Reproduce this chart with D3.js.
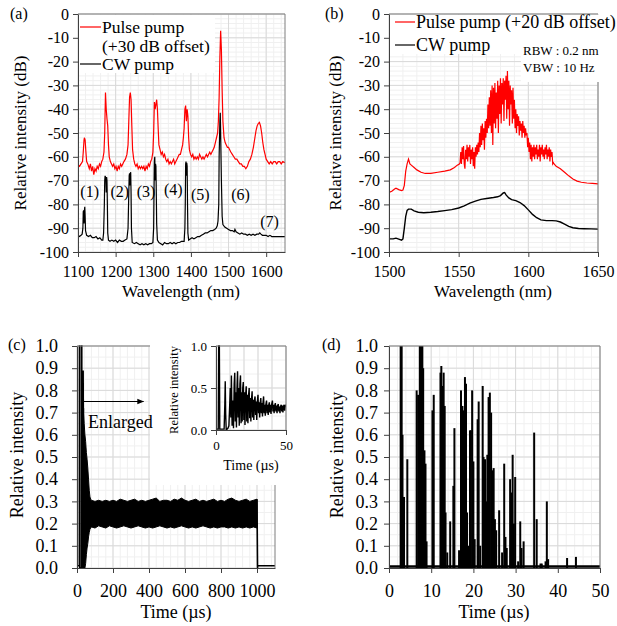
<!DOCTYPE html>
<html><head><meta charset="utf-8">
<script src="https://cdn.jsdelivr.net/npm/d3@7"></script>
<style>
body{margin:0;background:#fff}
svg text{font-family:"Liberation Serif","Times New Roman",serif !important;fill:#000}
</style>
</head><body>
<svg id="chart" width="617" height="626"></svg>
<script>
// ---------- Panel (a) data ----------
const aTicksX = [1100,1200,1300,1400,1500,1600];
const aTicksY = [0,-10,-20,-30,-40,-50,-60,-70,-80,-90,-100];
const aPulse = [[1100,-63.5],[1104,-64],[1108,-63],[1112,-62],[1114,-58],[1116,-53],[1117,-52],[1119,-53],[1121,-58],[1123,-62],[1126,-63],[1130,-65],[1133,-63],[1136,-66],[1139,-64],[1142,-67.5],[1145,-65],[1148,-66],[1151,-64],[1154,-65],[1157,-63],[1160,-64],[1163,-62],[1166,-61],[1169,-58],[1171,-50],[1173,-33],[1175,-40],[1177,-44],[1179,-47],[1181,-55],[1183,-60],[1186,-62],[1189,-63],[1192,-64],[1195,-63],[1198,-65],[1201,-64],[1204,-66],[1207,-64],[1210,-65],[1213,-63],[1216,-64],[1219,-63],[1222,-62],[1226,-61],[1230,-59],[1233,-55],[1235,-45],[1237,-35],[1239,-33],[1241,-36],[1243,-47],[1245,-57],[1248,-61],[1251,-63],[1254,-64],[1257,-63],[1260,-65],[1263,-64],[1266,-65],[1269,-64],[1272,-65],[1275,-64],[1278,-66],[1281,-64],[1284,-65],[1287,-63],[1290,-64],[1293,-62],[1296,-61],[1299,-58],[1301,-50],[1303,-37],[1305,-40],[1307,-38],[1309,-36],[1311,-40],[1313,-48],[1315,-55],[1318,-57],[1321,-59],[1324,-58],[1327,-60],[1330,-59],[1333,-61],[1336,-62],[1339,-61],[1342,-63],[1345,-62],[1348,-63],[1351,-62],[1354,-61],[1357,-63],[1360,-62],[1363,-61],[1366,-60],[1369,-59],[1372,-59],[1375,-57],[1378,-55],[1380,-52],[1382,-48],[1384,-40],[1386,-38.5],[1388,-45],[1390,-40],[1392,-43],[1394,-52],[1396,-57],[1399,-59],[1402,-60],[1405,-59],[1408,-61],[1411,-60],[1414,-61],[1417,-60],[1420,-61],[1423,-59],[1426,-60],[1429,-61],[1432,-60],[1435,-61],[1438,-60],[1441,-59],[1444,-60],[1447,-59],[1450,-58],[1453,-59],[1456,-58],[1459,-57],[1462,-56],[1465,-54],[1468,-52],[1471,-50],[1473,-45],[1475,-35],[1477,-18],[1479,-7],[1481,-15],[1483,-32],[1485,-45],[1488,-52],[1491,-54],[1494,-55],[1497,-56],[1500,-56],[1503,-57],[1506,-58],[1510,-59],[1514,-60],[1518,-61],[1522,-61],[1526,-62],[1530,-63],[1534,-63],[1538,-64],[1542,-64],[1546,-65],[1550,-64],[1554,-62],[1558,-61],[1562,-59],[1566,-56],[1570,-52],[1573,-49],[1576,-47],[1579,-46],[1582,-45.5],[1585,-47],[1588,-50],[1591,-54],[1594,-57],[1597,-59],[1600,-61],[1604,-62],[1608,-63],[1612,-62],[1616,-63],[1620,-62],[1624,-62],[1628,-63],[1632,-62],[1636,-62],[1640,-63],[1644,-62],[1650,-62.5]];
const aCW = [[1100,-93],[1104,-93.5],[1108,-93],[1111,-92.5],[1113,-90],[1114,-83],[1115,-82.5],[1116,-88],[1117,-83],[1118,-81],[1119,-85],[1120,-91],[1123,-93],[1128,-93.5],[1133,-93],[1138,-94],[1143,-94],[1148,-93.5],[1153,-94.5],[1158,-94],[1163,-95],[1166,-95],[1168,-92],[1170,-80],[1171,-70],[1172,-68],[1174,-69],[1175,-75],[1176,-68.5],[1177,-70],[1178,-80],[1179,-92],[1181,-95],[1185,-95.5],[1190,-95],[1195,-95.5],[1200,-95],[1205,-96],[1210,-95],[1215,-95.5],[1220,-95.5],[1225,-95],[1230,-94.5],[1233,-90],[1235,-75],[1236,-68],[1237,-67],[1238,-72],[1239,-67],[1240,-66.5],[1241,-75],[1242,-90],[1244,-96],[1250,-96.5],[1255,-96],[1260,-96.5],[1265,-97],[1270,-96.5],[1275,-97],[1280,-96.5],[1285,-97],[1290,-96.5],[1295,-96.5],[1299,-96],[1301,-90],[1302,-75],[1303,-62],[1304,-60],[1305,-70],[1306,-63],[1307,-64],[1308,-75],[1309,-88],[1311,-95],[1315,-96],[1320,-96.5],[1325,-97],[1330,-96],[1335,-96.5],[1340,-96.5],[1345,-96],[1350,-96.5],[1355,-96],[1360,-96.5],[1365,-96],[1370,-96],[1375,-95.5],[1382,-95.5],[1384,-90],[1385,-80],[1386,-63],[1387,-62],[1388,-68],[1389,-62.5],[1390,-64],[1391,-80],[1392,-92],[1394,-95],[1398,-94.5],[1403,-94],[1408,-94.5],[1413,-94],[1418,-93.5],[1423,-93.5],[1428,-93],[1433,-92.5],[1438,-92],[1443,-92],[1448,-91.5],[1453,-91],[1458,-91],[1463,-90.5],[1467,-90],[1470,-89],[1472,-87],[1474,-80],[1475,-60],[1477,-45],[1478,-41.5],[1479,-50],[1481,-70],[1483,-85],[1485,-88.5],[1490,-89.5],[1495,-90],[1500,-90.5],[1505,-91],[1510,-91],[1515,-91.5],[1517,-90.5],[1520,-91.5],[1525,-92],[1530,-92.5],[1535,-92],[1540,-92.5],[1545,-92.5],[1550,-93],[1555,-92.5],[1560,-93],[1565,-92.5],[1570,-93],[1575,-92.5],[1580,-92.5],[1583,-92],[1586,-92.5],[1590,-93],[1595,-93],[1600,-93],[1605,-93.5],[1610,-93],[1615,-93.5],[1620,-93.5],[1625,-93.5],[1630,-93.5],[1635,-93.5],[1640,-93.5],[1645,-93.5],[1650,-93.5]];
const aPeakLabels = ["(1)","(2)","(3)","(4)","(5)","(6)","(7)"];
const aPeakLabelPos = [[1131,-77],[1211,-77],[1281,-77],[1353,-76],[1425,-78],[1532,-78],[1609,-89.5]];

// ---------- Panel (b) data ----------
const bTicksX = [1500,1550,1600,1650];
const bTicksY = [0,-10,-20,-30,-40,-50,-60,-70,-80,-90,-100];
const bPulse = [[1500,-75],[1502,-74.5],[1504,-73.5],[1505,-73.2],[1507,-73.8],[1509,-74.2],[1510,-74],[1511,-72],[1512,-66],[1513,-63],[1514,-61],[1515,-63],[1516,-63.5],[1518,-64.5],[1520,-65.5],[1523,-66.5],[1526,-67],[1530,-67],[1535,-66.5],[1540,-66],[1544,-65.5],[1547,-64.5],[1549,-63.5],[1550.5,-63],
[1551,-62.5],[1551.5,-58],[1552,-63],[1552.5,-56],[1553,-61],[1553.5,-55.5],[1554,-63],[1554.5,-65],[1555,-57],[1555.5,-61],[1556,-55],[1556.5,-62],[1557,-56],[1557.5,-60],[1558,-55],[1558.5,-63],[1559,-57],[1559.5,-61],[1560,-56],[1560.5,-64],[1561,-58],[1561.5,-65],[1562,-56],[1562.5,-60],[1563,-55],[1563.5,-59],[1564,-54],[1564.5,-58],[1565,-50],[1565.5,-56],[1566,-47],[1566.5,-55],[1567,-46],[1567.5,-53],[1568,-48],[1568.5,-57],[1569,-45],[1569.5,-52],[1570,-44],[1570.5,-50],[1571,-38],[1571.5,-48],[1572,-35],[1572.5,-47],[1573,-32],[1573.5,-50],[1574,-30],[1574.5,-55],[1575,-31],[1575.5,-46],[1576,-29],[1576.5,-48],[1577,-33],[1577.5,-44],[1578,-28],[1578.5,-50],[1579,-30],[1579.5,-42],[1580,-27],[1580.5,-46],[1581,-29],[1581.5,-38],[1582,-27],[1582.5,-45],[1583,-28],[1583.5,-36],[1584,-26],[1584.5,-44],[1585,-24],[1585.5,-40],[1586,-28],[1586.5,-47],[1587,-30],[1587.5,-38],[1588,-32],[1588.5,-46],[1589,-31],[1589.5,-44],[1590,-36],[1590.5,-48],[1591,-40],[1591.5,-50],[1592,-42],[1592.5,-47],[1593,-43],[1593.5,-51],[1594,-45],[1594.5,-49],[1595,-46],[1595.5,-52],[1596,-45],[1596.5,-50],[1597,-47],[1597.5,-52],[1598,-48],[1598.5,-51],[1599,-50],[1599.5,-56],[1600,-52],[1600.5,-58],[1601,-54],[1601.5,-61],[1602,-55],[1602.5,-62],[1603,-56],[1603.5,-60],[1604,-55],[1604.5,-61],[1605,-56],[1605.5,-59],[1606,-55],[1606.5,-61],[1607,-57],[1607.5,-60],[1608,-55],[1608.5,-62],[1609,-56],[1609.5,-59],[1610,-55],[1610.5,-60],[1611,-57],[1611.5,-61],[1612,-56],[1612.5,-59],[1613,-55],[1613.5,-61],[1614,-57],[1614.5,-60],[1615,-56],[1615.5,-62],[1616,-57],[1616.5,-60],[1617,-58],[1617.5,-63],[1618,-62.5],
[1618.5,-63],[1620,-64],[1623,-65],[1626,-66.5],[1629,-68],[1632,-69.3],[1635,-70.2],[1638,-70.7],[1642,-71],[1646,-71.2],[1650,-71.4]];
const bCW = [[1500,-94.5],[1503,-94.5],[1505,-94.2],[1507,-94.6],[1509,-95],[1510,-94.5],[1511,-90],[1512,-85],[1513,-82.5],[1514,-82],[1516,-82],[1518,-82.7],[1521,-83.3],[1525,-83.5],[1530,-83.3],[1535,-83],[1540,-82.6],[1545,-82.2],[1550,-81.5],[1554,-80.6],[1558,-79.5],[1562,-78.6],[1566,-77.9],[1570,-77.5],[1575,-77.1],[1578,-76.8],[1580,-76.3],[1582,-75.2],[1583,-75],[1584,-76],[1586,-77.3],[1588,-78],[1591,-78.4],[1594,-79.2],[1597,-80.5],[1600,-82.3],[1603,-84.2],[1606,-85.6],[1609,-86.5],[1613,-86.8],[1617,-86.8],[1620,-86.9],[1623,-87.4],[1626,-88.3],[1629,-89.2],[1632,-89.8],[1636,-90.1],[1640,-90.2],[1645,-90.3],[1650,-90.4]];

// ---------- Panel (c) data ----------
const cTicksX = [0,200,400,600,800,1000];
const cTicksY = [0,0.1,0.2,0.3,0.4,0.5,0.6,0.7,0.8,0.9,1.0];
const cStart = [[0,0.01],[13,0.01],[13.5,1.0],[14.5,1.0],[15,0],[25,0],[25.5,1.0],[26.5,1.0],[27,0],[33,0],[34,0.89],[35,0.7],[36,0.72]];
const cBandT   = [36,40,44,48,52,56,60,64,68,72,76,80,100,120,140,160,180,200,220,240,260,280,300,320,340,360,380,400,420,440,460,480,500,520,540,560,580,600,620,640,660,680,700,720,740,760,780,800,820,840,860,880,900,920,940,960,980,1000];
const cBandTop = [0.72,0.65,0.6,0.57,0.52,0.49,0.45,0.4,0.35,0.32,0.31,0.305,0.30,0.305,0.30,0.305,0.30,0.305,0.30,0.31,0.305,0.30,0.305,0.31,0.30,0.305,0.30,0.305,0.31,0.315,0.30,0.305,0.305,0.30,0.31,0.305,0.315,0.305,0.30,0.305,0.31,0.30,0.305,0.30,0.305,0.31,0.30,0.305,0.30,0.31,0.315,0.305,0.30,0.305,0.31,0.30,0.305,0.31];
const cBandBot = [0,0,0,0.02,0.06,0.09,0.11,0.14,0.16,0.175,0.18,0.185,0.18,0.19,0.185,0.18,0.19,0.185,0.18,0.185,0.19,0.185,0.18,0.185,0.19,0.185,0.18,0.185,0.18,0.185,0.19,0.185,0.18,0.185,0.18,0.185,0.19,0.185,0.18,0.185,0.18,0.185,0.19,0.185,0.18,0.185,0.18,0.185,0.185,0.18,0.185,0.18,0.185,0.18,0.185,0.18,0.185,0.18];
const cEnd = [[1000,0.31],[1001,0.2],[1003,0],[1004,0.01],[1100,0.01]];
// inset
const insetTicksX = [0,50];
const insetTicksY = [0,0.5,1.0];
const insetTrace = [[0,0.01],[1.6,0.01],[1.9,1.0],[2.4,1.0],[2.7,0.01],[5.8,0.01],[6.3,0.3],[6.6,0.58],[6.9,0.2],[7.3,0],[8.5,0.02],[9.2,0.05],[9.8,0.3],[10.2,0.5],[10.6,0.15],[11.0,0.65],[11.5,0.05],[12.0,0.35],[12.5,0.02],[13.0,0.55],[13.4,0.68],[13.8,0.1],[14.2,0.45],[14.6,0.03],[15.0,0.5],[15.4,0.7],[15.8,0.15],[16.2,0.5],[16.6,0.05],[17.1,0.55],[17.5,0.65],[17.9,0.08],[18.3,0.45],[18.7,0.1],[19.1,0.5],[19.5,0.57],[19.9,0.12],[20.3,0.45],[20.7,0.06],[21.1,0.4],[21.6,0.52],[22.0,0.1],[22.4,0.42],[22.8,0.08],[23.2,0.4],[23.7,0.5],[24.1,0.14],[24.5,0.38],[24.9,0.1],[25.3,0.35],[25.8,0.46],[26.2,0.15],[26.6,0.36],[27.0,0.12],[27.4,0.35],[27.9,0.4],[28.3,0.18],[28.7,0.34],[29.1,0.12],[29.5,0.33],[30.0,0.42],[30.4,0.2],[30.8,0.33],[31.2,0.15],[31.6,0.32],[32.0,0.38],[32.4,0.2],[32.8,0.32],[33.2,0.16],[33.6,0.33],[34.0,0.4],[34.4,0.2],[34.8,0.3],[35.2,0.17],[35.6,0.3],[36.1,0.35],[36.5,0.2],[36.9,0.3],[37.3,0.18],[37.7,0.3],[38.1,0.33],[38.5,0.21],[38.9,0.3],[39.3,0.19],[39.7,0.3],[40.3,0.35],[40.7,0.22],[41.1,0.3],[41.5,0.2],[41.9,0.29],[42.4,0.32],[42.8,0.22],[43.2,0.29],[43.6,0.2],[44.0,0.29],[44.5,0.31],[44.9,0.22],[45.3,0.28],[45.7,0.2],[46.1,0.28],[46.6,0.3],[47.0,0.22],[47.4,0.29],[47.8,0.21],[48.2,0.28],[48.7,0.3],[49.1,0.23],[49.5,0.3],[50,0.27]];

// ---------- Panel (d) data ----------
const dTicksX = [0,10,20,30,40,50];
const dTicksY = [0,0.1,0.2,0.3,0.4,0.5,0.6,0.7,0.8,0.9,1.0];
const dSpikeT = [2.76,3.0,3.2,3.55,4.34,6.55,6.9,7.1,7.3,7.5,7.7,7.9,8.1,8.4,8.65,8.9,10.3,10.6,12.2,12.4,12.7,12.95,13.2,13.4,13.8,14.5,15.25,15.5,16.6,17.06,17.4,17.7,18.0,18.25,18.5,18.8,19.2,19.4,19.7,20.0,20.3,21.0,21.25,21.6,22.2,22.4,22.75,23.0,23.3,23.6,23.9,24.2,24.5,24.8,25.1,25.4,26.1,26.8,27.3,27.6,27.9,28.7,29.0,29.3,29.6,29.9,30.6,31.1,31.4,31.9,34.4,35.0,35.9,36.2,37.1,37.4,37.7,42.2,44.3];
const dSpikeV = [1.0,1.0,0.6,0.32,0.49,0.8,0.78,0.13,1.0,1.0,1.0,1.0,0.9,0.53,0.47,0.12,0.71,0.78,0.88,0.91,0.82,0.88,0.73,0.25,0.07,0.21,0.37,0.63,0.08,0.8,0.73,0.71,0.86,0.83,0.25,0.1,0.62,0.62,0.8,0.48,0.13,0.67,0.75,0.1,0.82,0.5,0.49,0.3,0.51,0.77,0.79,0.7,0.44,0.45,0.22,0.17,0.26,0.07,0.47,0.14,0.09,0.4,0.34,0.51,0.2,0.41,0.03,0.21,0.09,0.12,0.61,0.22,0.02,0.02,0.03,0.3,0.04,0.045,0.05];

// ---------- drawing ----------
const SERIF = '"Liberation Serif","Times New Roman",serif';
const svg = d3.select('#chart');
const defs = svg.append('defs');
const MAJ = '#d9d9d9', MIN = '#f0f0f0', AX = '#404040', FR = '#7f7f7f';

function panel(cfg){
  const g = svg.append('g');
  const x = d3.scaleLinear().domain(cfg.xd).range(cfg.xr);
  const y = d3.scaleLinear().domain(cfg.yd).range(cfg.yr);
  const [x0,x1] = cfg.xr, [y1,y0] = cfg.yr;
  const eps = 1e-9;
  const xMin = d3.range(cfg.xd[0], cfg.xd[1]+eps, cfg.xMinor);
  const yMin = d3.range(Math.min(...cfg.yd), Math.max(...cfg.yd)+eps, cfg.yMinor);
  g.append('g').selectAll('line').data(xMin).join('line')
    .attr('x1',d=>x(d)).attr('x2',d=>x(d)).attr('y1',y0).attr('y2',y1)
    .attr('stroke',MIN).attr('stroke-width',1);
  g.append('g').selectAll('line').data(yMin).join('line')
    .attr('y1',d=>y(d)).attr('y2',d=>y(d)).attr('x1',x0).attr('x2',x1)
    .attr('stroke',MIN).attr('stroke-width',1);
  const xMaj = d3.range(cfg.xd[0], cfg.xd[1]+eps, cfg.xMajor);
  const yMaj = d3.range(Math.min(...cfg.yd), Math.max(...cfg.yd)+eps, cfg.yMajor);
  g.append('g').selectAll('line').data(xMaj).join('line')
    .attr('x1',d=>x(d)).attr('x2',d=>x(d)).attr('y1',y0).attr('y2',y1)
    .attr('stroke',MAJ).attr('stroke-width',1);
  g.append('g').selectAll('line').data(yMaj).join('line')
    .attr('y1',d=>y(d)).attr('y2',d=>y(d)).attr('x1',x0).attr('x2',x1)
    .attr('stroke',MAJ).attr('stroke-width',1);
  const id = 'clip'+cfg.name;
  defs.append('clipPath').attr('id',id).append('rect')
    .attr('x',x0).attr('y',y0-1).attr('width',x1-x0).attr('height',y1-y0+1);
  const plot = g.append('g').attr('clip-path',`url(#${id})`);
  return {g,x,y,plot,x0,x1,y0,y1};
}
function frame(p, cfg){
  p.g.append('line').attr('x1',p.x0).attr('x2',cfg.topEnd ?? p.x1).attr('y1',p.y0).attr('y2',p.y0).attr('stroke',FR);
  p.g.append('line').attr('x1',p.x1).attr('x2',p.x1).attr('y1',cfg.rightStart ?? p.y0).attr('y2',p.y1).attr('stroke',FR);
}
function axes(p, cfg){
  const ax = p.g.append('g').attr('transform',`translate(0,${p.y1})`)
    .call(d3.axisBottom(p.x).tickValues(cfg.xTicks).tickFormat(cfg.xFmt).tickSize(5).tickSizeOuter(0).tickPadding(cfg.xPad));
  const ay = p.g.append('g').attr('transform',`translate(${p.x0},0)`)
    .call(d3.axisLeft(p.y).tickValues(cfg.yTicks).tickFormat(cfg.yFmt).tickSize(5).tickSizeOuter(0).tickPadding(cfg.yPad));
  [ax,ay].forEach(a=>{
    a.attr('font-family',SERIF).attr('font-size',cfg.fs);
    a.select('.domain').attr('stroke',AX);
    a.selectAll('.tick line').attr('stroke',AX);
    a.selectAll('text').style('font-family',SERIF).style('font-size',cfg.fs+'px').attr('fill','#000');
  });
}
function txt(x,y,s,fs,anchor,rot){
  const t = svg.append('text').attr('x',x).attr('y',y)
    .style('font-family',SERIF).style('font-size',fs+'px')
    .attr('text-anchor',anchor||'start').text(s);
  if(rot) t.attr('transform',`rotate(-90,${x},${y})`).attr('dy','0.35em');
  return t;
}
const lineGen = (p) => d3.line().x(d=>p.x(d[0])).y(d=>p.y(d[1]));

// ===== Panel (a) =====
const pa = panel({name:'a', xd:[1100,1650], yd:[-100,0], xr:[78,285], yr:[252,14], xMinor:20, xMajor:100, yMinor:2, yMajor:10});
pa.plot.append('path').datum(aPulse).attr('d',lineGen(pa)).attr('fill','none').attr('stroke','#ff0000').attr('stroke-width',1.2);
pa.plot.append('path').datum(aCW).attr('d',lineGen(pa)).attr('fill','none').attr('stroke','#000').attr('stroke-width',1.2);
svg.append('rect').attr('x',79).attr('y',15).attr('width',136).attr('height',58).attr('fill','#fff');
frame(pa,{});
axes(pa,{xTicks:aTicksX, yTicks:aTicksY, xFmt:d=>String(d), yFmt:d=>String(d), xPad:9, yPad:4, fs:16});
svg.append('line').attr('x1',80).attr('x2',101).attr('y1',27).attr('y2',27).attr('stroke','#ff0000').attr('stroke-width',1.2);
txt(102,33,'Pulse pump',17.5);
txt(102,52,'(+30 dB offset)',17.5);
svg.append('line').attr('x1',80).attr('x2',101).attr('y1',64).attr('y2',64).attr('stroke','#000').attr('stroke-width',1.2);
txt(102,70,'CW pump',17.5);
aPeakLabels.forEach((s,i)=>txt(pa.x(aPeakLabelPos[i][0]), pa.y(aPeakLabelPos[i][1]), s, 16, 'middle'));
txt(181,297,'Wavelength (nm)',17,'middle');
txt(20,133,'Relative intensity (dB)',17,'middle',true);
txt(10,19,'(a)',16);

// ===== Panel (b) =====
const pb = panel({name:'b', xd:[1500,1650], yd:[-100,0], xr:[389,598], yr:[252,14], xMinor:10, xMajor:50, yMinor:2, yMajor:10});
pb.plot.append('path').datum(bPulse).attr('d',lineGen(pb)).attr('fill','none').attr('stroke','#ff0000').attr('stroke-width',1.2);
pb.plot.append('path').datum(bCW).attr('d',lineGen(pb)).attr('fill','none').attr('stroke','#000').attr('stroke-width',1.4);
svg.append('rect').attr('x',390).attr('y',15).attr('width',212).attr('height',39).attr('fill','#fff');
svg.append('rect').attr('x',521).attr('y',15).attr('width',81).attr('height',67).attr('fill','#fff');
frame(pb,{rightStart:82});
axes(pb,{xTicks:bTicksX, yTicks:bTicksY, xFmt:d=>String(d), yFmt:d=>String(d), xPad:9, yPad:4, fs:16});
svg.append('line').attr('x1',395).attr('x2',415).attr('y1',22).attr('y2',22).attr('stroke','#ff0000').attr('stroke-width',1.2);
txt(416,28,'Pulse pump (+20 dB offset)',18);
svg.append('line').attr('x1',395).attr('x2',415).attr('y1',45).attr('y2',45).attr('stroke','#000').attr('stroke-width',1.2);
txt(416,51,'CW pump',18);
txt(523,55,'RBW : 0.2 nm',13);
txt(523,72,'VBW : 10 Hz',13);
txt(493,297,'Wavelength (nm)',17,'middle');
txt(335,133,'Relative intensity (dB)',17,'middle',true);
txt(325,19,'(b)',16);

// ===== Panel (c) =====
const pc = panel({name:'c', xd:[0,1100], yd:[0,1], xr:[77,275], yr:[568,346], xMinor:40, xMajor:200, yMinor:0.05, yMajor:0.1});
const cBand = cBandT.map((t,i)=>({t, top:cBandTop[i], bot:cBandBot[i]}));
pc.plot.append('path').datum(cBand)
  .attr('d', d3.area().x(d=>pc.x(d.t)).y0(d=>pc.y(d.bot)).y1(d=>pc.y(d.top)))
  .attr('fill','#000').attr('stroke','#000').attr('stroke-width',1);
pc.plot.append('path').datum(cStart).attr('d',lineGen(pc)).attr('fill','none').attr('stroke','#000').attr('stroke-width',1.6);
pc.plot.append('path').datum(cEnd).attr('d',lineGen(pc)).attr('fill','none').attr('stroke','#000').attr('stroke-width',1.6);
svg.append('rect').attr('x',150).attr('y',338).attr('width',150).attr('height',147).attr('fill','#fff');
frame(pc,{topEnd:150, rightStart:485});
axes(pc,{xTicks:cTicksX, yTicks:cTicksY, xFmt:d=>String(d), yFmt:d=>d.toFixed(1), xPad:11, yPad:14, fs:18});
defs.append('marker').attr('id','arr').attr('viewBox','0 0 10 10').attr('refX',9).attr('refY',5)
  .attr('markerWidth',7).attr('markerHeight',7).attr('orient','auto')
  .append('path').attr('d','M0,1L10,5L0,9Z').attr('fill','#000');
svg.append('line').attr('x1',pc.x(30)).attr('x2',pc.x(370)).attr('y1',pc.y(0.75)).attr('y2',pc.y(0.75))
  .attr('stroke','#000').attr('stroke-width',1).attr('marker-end','url(#arr)');
txt(88,428,'Enlarged',18);
txt(176,618,'Time (µs)',18,'middle');
txt(17,455,'Relative intensity',18,'middle',true);
txt(8,350,'(c)',16);

// inset
const pi = panel({name:'i', xd:[0,50], yd:[0,1], xr:[216,286], yr:[430,346], xMinor:10, xMajor:10, yMinor:1/6, yMajor:0.5});
pi.plot.append('path').datum(insetTrace).attr('d',lineGen(pi)).attr('fill','none').attr('stroke','#000').attr('stroke-width',1.4);
frame(pi,{});
axes(pi,{xTicks:insetTicksX, yTicks:insetTicksY, xFmt:d=>String(d), yFmt:d=>d.toFixed(1), xPad:6, yPad:4, fs:13});
txt(251,470,'Time (µs)',14,'middle');
txt(174,390,'Relative intensity',12.5,'middle',true);

// ===== Panel (d) =====
const pd = panel({name:'d', xd:[0,50], yd:[0,1], xr:[389,600], yr:[568,346], xMinor:2, xMajor:10, yMinor:0.05, yMajor:0.1});
pd.plot.append('line').attr('x1',pd.x(0)).attr('x2',pd.x(50)).attr('y1',pd.y(0.007)).attr('y2',pd.y(0.007)).attr('stroke','#000').attr('stroke-width',2.5);
pd.plot.append('g').selectAll('line').data(dSpikeT.map((t,i)=>[t,dSpikeV[i]])).join('line')
  .attr('x1',d=>pd.x(d[0])).attr('x2',d=>pd.x(d[0])).attr('y1',pd.y(0)).attr('y2',d=>pd.y(d[1]))
  .attr('stroke','#000').attr('stroke-width',2);
frame(pd,{});
axes(pd,{xTicks:dTicksX, yTicks:dTicksY, xFmt:d=>String(d), yFmt:d=>d.toFixed(1), xPad:11, yPad:6, fs:18});
txt(494,618,'Time (µs)',18,'middle');
txt(337,455,'Relative intensity',18,'middle',true);
txt(322,350,'(d)',16);
</script>
</body></html>
